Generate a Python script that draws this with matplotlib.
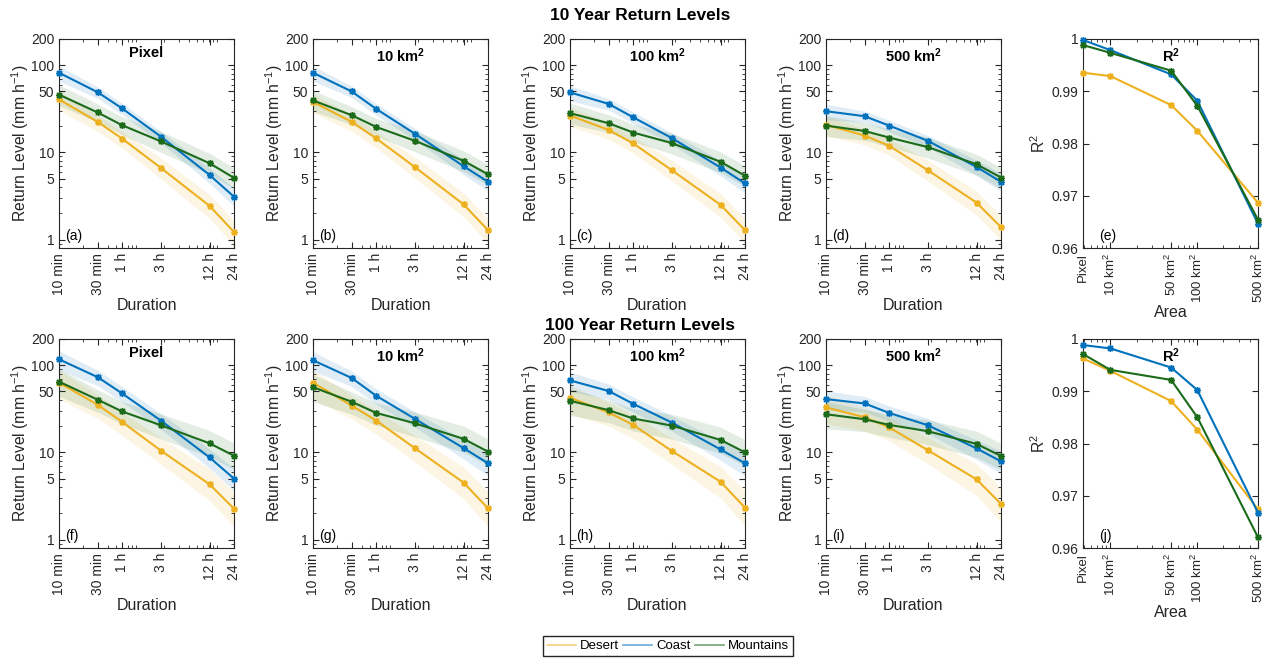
import numpy as np
import matplotlib.pyplot as plt
from matplotlib.lines import Line2D
from matplotlib.ticker import FixedLocator, FixedFormatter, NullFormatter, LogLocator

plt.rcParams['font.family'] = ['Liberation Sans', 'DejaVu Sans']
plt.rcParams['mathtext.fontset'] = 'custom'
plt.rcParams['mathtext.rm'] = 'Liberation Sans'
plt.rcParams['mathtext.it'] = 'Liberation Sans:italic'
plt.rcParams['mathtext.bf'] = 'Liberation Sans:bold'
plt.rcParams['mathtext.default'] = 'regular'
plt.rcParams['axes.edgecolor'] = '#262626'
plt.rcParams['xtick.color'] = '#262626'
plt.rcParams['ytick.color'] = '#262626'

# durations (minutes) and their labels
durations = [10, 30, 60, 180, 720, 1440]
duration_labels = ['10 min', '30 min', '1 h', '3 h', '12 h', '24 h']
areas = ['Pixel', r'10 km$^\mathbf{2}$', r'100 km$^\mathbf{2}$', r'500 km$^\mathbf{2}$']

# r2 x axis (km2), pixel ~ 2.2 km grid
r2_area = [4.84, 10, 50, 100, 500]
r2_labels = ['Pixel', '10 km$^2$', '50 km$^2$', '100 km$^2$', '500 km$^2$']

# 10 year return levels (mm/h), one row per area
desert_10 = [[40.5, 22.4, 14.4, 6.65, 2.43, 1.22],
             [38.0, 22.4, 14.5, 6.8, 2.53, 1.28],
             [26.5, 18.1, 12.7, 6.25, 2.5, 1.28],
             [20.7, 15.6, 11.9, 6.25, 2.65, 1.39]]
coast_10 = [[82, 49, 32, 15.2, 5.5, 3.1],
            [82, 50, 31.6, 16.4, 6.95, 4.6],
            [48.8, 36, 25.3, 14.6, 6.7, 4.4],
            [29.7, 26, 20.3, 13.6, 6.8, 4.6]]
mount_10 = [[46, 28.7, 20.5, 13.4, 7.5, 5.1],
            [39.5, 26.7, 19.6, 13.6, 8.0, 5.6],
            [28.2, 21.6, 16.9, 12.8, 7.8, 5.4],
            [20.3, 17.6, 14.8, 11.5, 7.3, 5.15]]

# 100 year return levels (mm/h)
desert_100 = [[63, 35.2, 22.4, 10.5, 4.3, 2.26],
              [63, 34.5, 23.2, 11.2, 4.5, 2.28],
              [42.4, 28.7, 20.7, 10.4, 4.6, 2.32],
              [32.8, 25.3, 19.4, 10.6, 4.9, 2.56]]
coast_100 = [[117, 73, 47.5, 23.2, 8.75, 5.0],
             [114, 71.4, 44.7, 24.3, 11.2, 7.5],
             [67, 50.6, 36.1, 22, 10.8, 7.5],
             [40.9, 36.4, 28.4, 20.5, 11.1, 7.9]]
mount_100 = [[64.8, 40.2, 29.5, 20.5, 12.7, 9.15],
             [56, 38.1, 28.4, 21.6, 14.3, 10.2],
             [39.1, 30.5, 24.5, 20.3, 13.9, 10.0],
             [27.4, 24.0, 20.7, 17.5, 12.5, 9.1]]

# uncertainty band as ratio of return level (lower, upper)
desert_lo_10 = [0.75, 0.78, 0.78, 0.75, 0.72, 0.70]
desert_hi_10 = [1.25, 1.20, 1.20, 1.30, 1.35, 1.35]
coast_lo_10 = [0.80, 0.85, 0.85, 0.85, 0.80, 0.78]
coast_hi_10 = [1.20, 1.15, 1.15, 1.15, 1.20, 1.25]
mount_lo_10 = [0.75, 0.78, 0.78, 0.75, 0.75, 0.75]
mount_hi_10 = [1.30, 1.25, 1.25, 1.30, 1.30, 1.30]
desert_lo_100 = [0.65, 0.70, 0.70, 0.70, 0.65, 0.62]
desert_hi_100 = [1.40, 1.30, 1.30, 1.40, 1.50, 1.55]
coast_lo_100 = [0.75, 0.80, 0.80, 0.80, 0.75, 0.72]
coast_hi_100 = [1.25, 1.20, 1.20, 1.20, 1.25, 1.30]
mount_lo_100 = [0.68, 0.72, 0.72, 0.70, 0.70, 0.70]
mount_hi_100 = [1.40, 1.30, 1.30, 1.35, 1.40, 1.40]

# r2 of fits
desert_r2_10 = [0.99355, 0.9929, 0.98735, 0.98245, 0.96865]
coast_r2_10 = [0.9998, 0.99787, 0.99323, 0.98819, 0.96465]
mount_r2_10 = [0.99884, 0.99735, 0.99394, 0.98723, 0.96542]
desert_r2_100 = [0.99628, 0.9939, 0.98812, 0.98266, 0.96737]
coast_r2_100 = [0.99884, 0.9982, 0.99454, 0.99024, 0.96674]
mount_r2_100 = [0.99711, 0.99409, 0.99217, 0.98504, 0.96205]

c_desert = '#EDB120'
c_coast = '#0072BD'
c_mount = '#1B6B1B'

fig = plt.figure(figsize=(12.77, 6.58), dpi=100)

lefts = [59, 313, 570, 826, 1083]
W, H = 1277.0, 658.0
row_top = [39, 339]
ax_w, ax_h = 175, 209

letters = 'abcdefghij'
asterisk = (8, 2, 0)


def make_ax(row, col):
    l = lefts[col] / W
    b = 1 - (row_top[row] + ax_h) / H
    ax = fig.add_axes([l, b, ax_w / W, ax_h / H])
    ax.tick_params(which='both', direction='in', top=True, right=True, labelsize=10)
    ax.tick_params(which='major', length=4)
    ax.tick_params(which='minor', length=2)
    for s in ax.spines.values():
        s.set_linewidth(0.8)
    return ax


def rl_panel(ax, series, bands, title, letter):
    for (vals, color), (lo, hi) in zip(series, bands):
        v = np.array(vals)
        ax.fill_between(durations, v * np.array(lo), v * np.array(hi),
                        color=color, alpha=0.12, lw=0)
    for vals, color in series:
        ax.plot(durations, vals, color=color, lw=1.5, marker=asterisk, ms=5,
                mew=1, clip_on=False, zorder=3)
    ax.set_xscale('log')
    ax.set_yscale('log')
    ax.set_xlim(10, 1440)
    ax.set_ylim(0.8, 200)
    ax.xaxis.set_major_locator(FixedLocator(durations))
    ax.xaxis.set_major_formatter(FixedFormatter(duration_labels))
    ax.xaxis.set_minor_locator(LogLocator(base=10, subs=np.arange(2, 10)))
    ax.xaxis.set_minor_formatter(NullFormatter())
    yt = [1, 5, 10, 50, 100, 200]
    ax.yaxis.set_major_locator(FixedLocator(yt))
    ax.yaxis.set_major_formatter(FixedFormatter([str(t) for t in yt]))
    ax.yaxis.set_minor_locator(LogLocator(base=10, subs=np.arange(2, 10)))
    ax.yaxis.set_minor_formatter(NullFormatter())
    plt.setp(ax.get_xticklabels(), rotation=90)
    ax.set_xlabel('Duration', fontsize=11.5, color='#262626', labelpad=2)
    ax.set_ylabel('Return Level (mm h$^{-1}$)', fontsize=11.3, color='#262626', labelpad=0)
    ax.text(0.5, 0.965, title, transform=ax.transAxes, ha='center', va='top',
            fontsize=10.5, fontweight='bold')
    ax.text(0.035, 0.025, '(' + letter + ')', transform=ax.transAxes,
            ha='left', va='bottom', fontsize=10)


def r2_panel(ax, series, letter):
    for vals, color in series:
        ax.plot(r2_area, vals, color=color, lw=1.5, marker=asterisk, ms=5,
                mew=1, clip_on=False, zorder=3)
    ax.set_xscale('log')
    ax.set_xlim(4.84, 500)
    ax.set_ylim(0.96, 1.0)
    ax.xaxis.set_major_locator(FixedLocator(r2_area))
    ax.xaxis.set_major_formatter(FixedFormatter(r2_labels))
    ax.xaxis.set_minor_locator(LogLocator(base=10, subs=np.arange(2, 10)))
    ax.xaxis.set_minor_formatter(NullFormatter())
    yt = [0.96, 0.97, 0.98, 0.99, 1.0]
    ax.yaxis.set_major_locator(FixedLocator(yt))
    ax.yaxis.set_major_formatter(FixedFormatter(['0.96', '0.97', '0.98', '0.99', '1']))
    ax.tick_params(axis='x', labelsize=9.5)
    plt.setp(ax.get_xticklabels(), rotation=90)
    ax.set_xlabel('Area', fontsize=11.5, color='#262626', labelpad=1)
    ax.set_ylabel('R$^2$', fontsize=11.3, color='#262626', labelpad=2)
    ax.text(0.5, 0.965, r'R$^\mathbf{2}$', transform=ax.transAxes, ha='center', va='top',
            fontsize=10.5, fontweight='bold')
    ax.text(0.09, 0.025, '(' + letter + ')', transform=ax.transAxes,
            ha='left', va='bottom', fontsize=10)


sets = [
    (desert_10, coast_10, mount_10,
     [(desert_lo_10, desert_hi_10), (coast_lo_10, coast_hi_10), (mount_lo_10, mount_hi_10)],
     [desert_r2_10, coast_r2_10, mount_r2_10]),
    (desert_100, coast_100, mount_100,
     [(desert_lo_100, desert_hi_100), (coast_lo_100, coast_hi_100), (mount_lo_100, mount_hi_100)],
     [desert_r2_100, coast_r2_100, mount_r2_100]),
]

for row, (des, coa, mou, bands, r2) in enumerate(sets):
    for col in range(4):
        ax = make_ax(row, col)
        series = [(des[col], c_desert), (coa[col], c_coast), (mou[col], c_mount)]
        rl_panel(ax, series, bands, areas[col], letters[row * 5 + col])
    ax = make_ax(row, 4)
    r2_panel(ax, [(r2[0], c_desert), (r2[1], c_coast), (r2[2], c_mount)], letters[row * 5 + 4])

fig.text(640 / W, 1 - 15 / H, '10 Year Return Levels', ha='center', va='center',
         fontsize=12.5, fontweight='bold')
fig.text(640 / W, 1 - 326 / H, '100 Year Return Levels', ha='center', va='center',
         fontsize=12.5, fontweight='bold')

handles = [Line2D([], [], color=c, alpha=0.6, lw=1.2) for c in (c_desert, c_coast, c_mount)]
fig.legend(handles, ['Desert', 'Coast', 'Mountains'], ncol=3, loc='center',
           bbox_to_anchor=(668 / W, 1 - 646 / H), fontsize=9.5, frameon=True,
           fancybox=False, edgecolor='#262626', framealpha=1, handlelength=2.2,
           handletextpad=0.3, columnspacing=0.3, borderpad=0.3, borderaxespad=0)

fig.savefig('out.png', dpi=100)
